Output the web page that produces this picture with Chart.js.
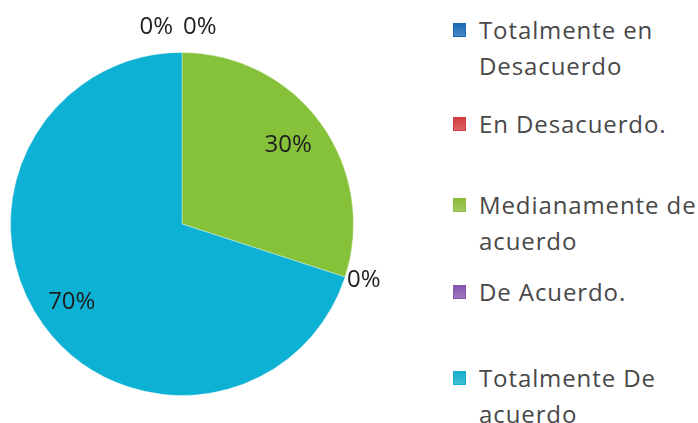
<!DOCTYPE html>
<html>
<head>
<meta charset="utf-8">
<script src="https://cdn.jsdelivr.net/npm/chart.js@4.4.1/dist/chart.umd.min.js"></script>
<style>
  html, body { margin: 0; padding: 0; background: #fff; }
  #wrap { position: relative; width: 698px; height: 423px; overflow: hidden; }
  #chartBox { position: absolute; left: 0; top: 0; width: 440px; height: 423px; }
  #legend { position: absolute; left: 453px; top: 12px; width: 280px; }
  .item { display: flex; align-items: flex-start; }
  .box { width: 13px; height: 14px; margin-top: 11px; flex: none; box-sizing: border-box; }
  .txt { margin-left: 13px; font-family: "Open Sans", sans-serif; font-size: 24px; line-height: 36px;
         color: #484848; letter-spacing: 0.9px; white-space: nowrap; }
</style>
</head>
<body>
<div id="wrap">
  <div id="chartBox"><canvas id="pieChart"></canvas></div>
  <div id="legend"></div>
</div>
<script>
// --- DANE ---
const categories = [
  ['Totalmente en', 'Desacuerdo'],
  ['En Desacuerdo.'],
  ['Medianamente de', 'acuerdo'],
  ['De Acuerdo.'],
  ['Totalmente De', 'acuerdo']
];
const percentages = [0, 0, 30, 0, 70];
const percentLabels = ['0%', '0%', '30%', '0%', '70%'];

const sliceColors = ['#1F6FBE', '#C9373A', '#86C13A', '#7B4FA6', '#0DB1D3'];
const legendColors = ['#1B6AB5', '#D23C3E', '#8DBB3A', '#8556AE', '#14AFC9'];
// wysokości slotów legendy (układ jak w Excelu)
const legendSlots = [94, 81, 87, 86, 60];

// --- LEGENDA (HTML) ---
const legendEl = document.getElementById('legend');
categories.forEach((lines, i) => {
  const item = document.createElement('div');
  item.className = 'item';
  item.style.height = legendSlots[i] + 'px';
  const box = document.createElement('div');
  box.className = 'box';
  box.style.background = `linear-gradient(180deg, ${legendColors[i]}, ${legendColors[i]}cc)`;
  box.style.border = '1px solid ' + legendColors[i];
  const txt = document.createElement('div');
  txt.className = 'txt';
  txt.innerHTML = lines.join('<br>');
  item.appendChild(box);
  item.appendChild(txt);
  legendEl.appendChild(item);
});

// --- ETYKIETY PROCENTOWE ---
const pctLabelsPlugin = {
  id: 'pctLabels',
  afterDatasetsDraw(chart) {
    const ctx = chart.ctx;
    const meta = chart.getDatasetMeta(0);
    ctx.save();
    ctx.font = '24px "Open Sans", sans-serif';
    ctx.fillStyle = '#1e1e1e';
    let topCount = 0;
    meta.data.forEach((arc, i) => {
      const p = arc.getProps(['x', 'y', 'startAngle', 'endAngle', 'outerRadius'], true);
      const mid = (p.startAngle + p.endAngle) / 2;
      if (percentages[i] > 0) {
        const r = p.outerRadius * 0.78;
        ctx.textAlign = 'center';
        ctx.textBaseline = 'middle';
        ctx.fillText(percentLabels[i], p.x + Math.cos(mid) * r - 2, p.y + Math.sin(mid) * r);
      } else {
        const r = p.outerRadius + 2;
        const ax = p.x + Math.cos(mid) * r;
        const ay = p.y + Math.sin(mid) * r;
        ctx.textBaseline = 'middle';
        if (Math.abs(Math.cos(mid)) < 0.05 && Math.sin(mid) < 0) {
          // dwie etykiety obok siebie na górze
          ctx.textAlign = topCount === 0 ? 'right' : 'left';
          ctx.fillText(percentLabels[i], topCount === 0 ? ax - 9 : ax + 1, ay - 23);
          topCount++;
        } else {
          ctx.textAlign = Math.cos(mid) >= 0 ? 'left' : 'right';
          ctx.fillText(percentLabels[i], ax, ay + 3);
        }
      }
    });
    ctx.restore();
  }
};

// --- WYKRES ---
const ctx = document.getElementById('pieChart').getContext('2d');
new Chart(ctx, {
  type: 'pie',
  data: {
    labels: categories.map(l => l.join(' ')),
    datasets: [{
      data: percentages,
      backgroundColor: sliceColors,
      borderColor: 'rgba(255,255,255,0.35)',
      borderWidth: 1
    }]
  },
  options: {
    responsive: true,
    maintainAspectRatio: false,
    animation: false,
    layout: { padding: { left: 10, right: 86, top: 52, bottom: 27 } },
    plugins: {
      legend: { display: false },
      tooltip: { enabled: false }
    }
  },
  plugins: [pctLabelsPlugin]
});
</script>
</body>
</html>
